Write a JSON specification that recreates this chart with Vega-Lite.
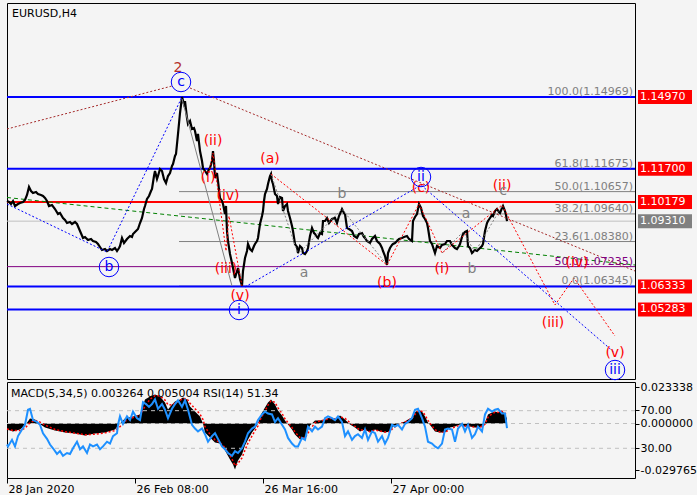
{
  "$schema": "https://vega.github.io/schema/vega-lite/v6.json",
  "background": "#F4F4F4",
  "padding": {"left": 2, "top": 2, "right": 0, "bottom": 0},
  "spacing": 3,
  "bounds": "flush",
  "config": {
    "view": {"stroke": "#000000", "strokeWidth": 1},
    "font": "DejaVu Sans",
    "axis": {"domain": false, "grid": false, "labelFont": "DejaVu Sans", "labelFontSize": 11, "labelColor": "#000000", "tickColor": "#000000", "labelFlush": false, "labelOverlap": false, "labelBound": false, "title": null},
    "title": {"font": "DejaVu Sans", "fontSize": 11, "fontWeight": "normal", "color": "#000000", "anchor": "start", "frame": "group", "baseline": "top"}
  },
  "datasets": {
    "price": [
      {"t":2,"p":1.10229},{"t":4,"p":1.10183},{"t":6,"p":1.10092},{"t":8,"p":1.10229},{"t":10,"p":1.10001},{"t":13,"p":1.10092},{"t":15,"p":1.10138},{"t":18,"p":1.10183},{"t":20,"p":1.10275},{"t":22,"p":1.10503},{"t":24,"p":1.10868},{"t":26,"p":1.10685},{"t":28,"p":1.10594},{"t":31,"p":1.1064},{"t":33,"p":1.10548},{"t":36,"p":1.10503},{"t":38,"p":1.10457},{"t":40,"p":1.10366},{"t":42,"p":1.10229},{"t":44,"p":1.10001},{"t":47,"p":1.10047},{"t":50,"p":1.09864},{"t":53,"p":1.09636},{"t":55,"p":1.09682},{"t":58,"p":1.09454},{"t":60,"p":1.09362},{"t":62,"p":1.09225},{"t":65,"p":1.09271},{"t":67,"p":1.0918},{"t":70,"p":1.09271},{"t":72,"p":1.0918},{"t":75,"p":1.0886},{"t":78,"p":1.08541},{"t":80,"p":1.08587},{"t":83,"p":1.0845},{"t":86,"p":1.08495},{"t":88,"p":1.08404},{"t":91,"p":1.08359},{"t":93,"p":1.08267},{"t":95,"p":1.08131},{"t":97,"p":1.07994},{"t":100,"p":1.08039},{"t":102,"p":1.07948},{"t":105,"p":1.08039},{"t":107,"p":1.07994},{"t":110,"p":1.08085},{"t":112,"p":1.07948},{"t":114,"p":1.08085},{"t":115,"p":1.08176},{"t":117,"p":1.08541},{"t":119,"p":1.08313},{"t":122,"p":1.08495},{"t":125,"p":1.08632},{"t":127,"p":1.08587},{"t":128,"p":1.08724},{"t":131,"p":1.0886},{"t":133,"p":1.08952},{"t":135,"p":1.09225},{"t":137,"p":1.09454},{"t":139,"p":1.09864},{"t":140,"p":1.10001},{"t":142,"p":1.1032},{"t":144,"p":1.10457},{"t":146,"p":1.10685},{"t":147,"p":1.10776},{"t":149,"p":1.11369},{"t":150,"p":1.11598},{"t":152,"p":1.11233},{"t":153,"p":1.11369},{"t":155,"p":1.11689},{"t":157,"p":1.11598},{"t":159,"p":1.11233},{"t":161,"p":1.1105},{"t":163,"p":1.11369},{"t":165,"p":1.11506},{"t":167,"p":1.11826},{"t":168,"p":1.11917},{"t":170,"p":1.12282},{"t":171,"p":1.12373},{"t":173,"p":1.13286},{"t":175,"p":1.14244},{"t":177,"p":1.14973},
      {"t":179,"p":1.14654},{"t":180,"p":1.14791},{"t":182,"p":1.14015},{"t":183,"p":1.13742},{"t":185,"p":1.13879},{"t":187,"p":1.13514},{"t":189,"p":1.13559},{"t":190,"p":1.13422},{"t":192,"p":1.12966},{"t":193,"p":1.13286},{"t":195,"p":1.1251},{"t":197,"p":1.12054},{"t":198,"p":1.11734},{"t":200,"p":1.11598},{"t":202,"p":1.11461},{"t":204,"p":1.11689},{"t":205,"p":1.11734},{"t":207,"p":1.12054},{"t":208,"p":1.1251},{"t":209,"p":1.12054},{"t":210,"p":1.11278},{"t":212,"p":1.11506},{"t":213,"p":1.11141},{"t":215,"p":1.10366},{"t":217,"p":1.10229},{"t":218,"p":1.10092},{"t":220,"p":1.09636},{"t":221,"p":1.10001},{"t":222,"p":1.0886},{"t":223,"p":1.08404},{"t":225,"p":1.07811},{"t":227,"p":1.07401},{"t":228,"p":1.07173},{"t":230,"p":1.06716},{"t":232,"p":1.07036},{"t":233,"p":1.07173},{"t":235,"p":1.06671},{"t":237,"p":1.06351},{"t":238,"p":1.07036},{"t":240,"p":1.07629},{"t":242,"p":1.07948},{"t":243,"p":1.08267},{"t":245,"p":1.08039},{"t":247,"p":1.07948},{"t":249,"p":1.08176},{"t":250,"p":1.08267},{"t":252,"p":1.08404},{"t":253,"p":1.08541},{"t":255,"p":1.0918},{"t":257,"p":1.09545},{"t":258,"p":1.09773},{"t":259,"p":1.10229},{"t":260,"p":1.10548},{"t":262,"p":1.10776},{"t":263,"p":1.11005},{"t":265,"p":1.11369},{"t":266,"p":1.11461},{"t":267,"p":1.11141},{"t":268,"p":1.11005},{"t":270,"p":1.10548},{"t":272,"p":1.10457},{"t":273,"p":1.10092},{"t":275,"p":1.10412},{"t":277,"p":1.10366},{"t":278,"p":1.09773},{"t":280,"p":1.10001},{"t":282,"p":1.10092},{"t":283,"p":1.09773},{"t":285,"p":1.09454},{"t":287,"p":1.09089},{"t":288,"p":1.0886},{"t":290,"p":1.08267},{"t":292,"p":1.08131},{"t":293,"p":1.07857},{"t":295,"p":1.08176},{"t":297,"p":1.08085},{"t":298,"p":1.07857},{"t":300,"p":1.07811},{"t":302,"p":1.07948},{"t":303,"p":1.08085},{"t":305,"p":1.08632},{"t":307,"p":1.08997},{"t":309,"p":1.08769},{"t":310,"p":1.08724},{"t":312,"p":1.08587},{"t":313,"p":1.08541},{"t":315,"p":1.08769},{"t":317,"p":1.08724},{"t":318,"p":1.09317},{"t":320,"p":1.09317},{"t":322,"p":1.09454},{"t":324,"p":1.09225},{"t":327,"p":1.09408},{"t":330,"p":1.09454},{"t":332,"p":1.09225},{"t":334,"p":1.09545},{"t":337,"p":1.09864},{"t":339,"p":1.09682},{"t":340,"p":1.09636},{"t":342,"p":1.08997},{"t":344,"p":1.08952},{"t":347,"p":1.0886},{"t":349,"p":1.08632},{"t":352,"p":1.08541},{"t":354,"p":1.08724},{"t":357,"p":1.08769},{"t":359,"p":1.08587},{"t":360,"p":1.08541},{"t":362,"p":1.08404},{"t":365,"p":1.08313},{"t":367,"p":1.08495},{"t":370,"p":1.08632},{"t":372,"p":1.08404},{"t":375,"p":1.08267},{"t":377,"p":1.08085},{"t":378,"p":1.07948},{"t":380,"p":1.0772},{"t":382,"p":1.07309},{"t":383,"p":1.07857},{"t":385,"p":1.08085},{"t":387,"p":1.08222},{"t":388,"p":1.08267},{"t":390,"p":1.08313},{"t":392,"p":1.08404},{"t":394,"p":1.08495},{"t":397,"p":1.08541},{"t":399,"p":1.08587},{"t":402,"p":1.08632},{"t":404,"p":1.08495},{"t":407,"p":1.08404},{"t":408,"p":1.09317},{"t":410,"p":1.09499},{"t":412,"p":1.09636},{"t":414,"p":1.10092},{"t":416,"p":1.0991},{"t":418,"p":1.09545},{"t":420,"p":1.09408},{"t":422,"p":1.09225},{"t":423,"p":1.08997},{"t":425,"p":1.08404},{"t":427,"p":1.08267},{"t":430,"p":1.07857},{"t":432,"p":1.08176},{"t":435,"p":1.08085},{"t":437,"p":1.08222},{"t":440,"p":1.08267},{"t":442,"p":1.08404},{"t":445,"p":1.08404},{"t":447,"p":1.08222},{"t":448,"p":1.08176},{"t":450,"p":1.08085},{"t":452,"p":1.08039},{"t":454,"p":1.08176},{"t":455,"p":1.08267},{"t":457,"p":1.08587},{"t":458,"p":1.08724},{"t":460,"p":1.08815},{"t":462,"p":1.0886},{"t":463,"p":1.08176},{"t":465,"p":1.08085},{"t":467,"p":1.07857},{"t":470,"p":1.07994},{"t":472,"p":1.07948},{"t":474,"p":1.08039},{"t":475,"p":1.08085},{"t":477,"p":1.08176},{"t":478,"p":1.08267},{"t":480,"p":1.0886},{"t":482,"p":1.09225},{"t":483,"p":1.09317},{"t":485,"p":1.09454},{"t":487,"p":1.0959},{"t":488,"p":1.09545},{"t":490,"p":1.09773},{"t":492,"p":1.09864},{"t":494,"p":1.09727},{"t":495,"p":1.09682},{"t":497,"p":1.0991},{"t":498,"p":1.10001},{"t":500,"p":1.09773},{"t":501,"p":1.0959},{"t":502,"p":1.0931}
    ],
    "levels": [
      {"p":1.1497,"k":"blue"},{"p":1.117,"k":"blue"},{"p":1.06333,"k":"blue"},{"p":1.05283,"k":"blue"},{"p":1.10179,"k":"red"},{"p":1.0931,"k":"cur"},{"p":1.07235,"k":"purple"}
    ],
    "fib": [
      {"p":1.14969,"l":"100.0(1.14969)","s":174},{"p":1.11675,"l":"61.8(1.11675)","s":174},{"p":1.10657,"l":"50.0(1.10657)","s":174},{"p":1.0964,"l":"38.2(1.09640)","s":174},{"p":1.0838,"l":"23.6(1.08380)","s":174},{"p":1.06345,"l":"0.0(1.06345)","s":174}
    ],
    "boxes": [
      {"p":1.1497,"k":"blue"},{"p":1.117,"k":"blue"},{"p":1.10179,"k":"red"},{"p":1.0931,"k":"cur"},{"p":1.06333,"k":"blue"},{"p":1.05283,"k":"blue"}
    ],
    "lines": [
      {"g":"gr","k":"green","t":2,"p":1.10389},{"g":"gr","k":"green","t":630,"p":1.07309},
      {"g":"gs","k":"graysolid","t":177,"p":1.14882},{"g":"gs","k":"graysolid","t":227,"p":1.06351},
      {"g":"g1","k":"graydot","t":266,"p":1.11461},{"g":"g1","k":"graydot","t":293,"p":1.07811},{"g":"g1","k":"graydot","t":337,"p":1.09864},{"g":"g1","k":"graydot","t":382,"p":1.07309},
      {"g":"g2","k":"graydot","t":437,"p":1.07857},{"g":"g2","k":"graydot","t":458,"p":1.08815},{"g":"g2","k":"graydot","t":470,"p":1.07902},{"g":"g2","k":"graydot","t":497,"p":1.10001},
      {"g":"b1","k":"brown","t":2,"p":1.13514},{"g":"b1","k":"brown","t":167,"p":1.15475},
      {"g":"b2","k":"brown","t":185,"p":1.15384},{"g":"b2","k":"brown","t":630,"p":1.07036},
      {"g":"u1","k":"blue","t":2,"p":1.10092},{"g":"u1","k":"blue","t":102,"p":1.07902},{"g":"u1","k":"blue","t":177,"p":1.14973},
      {"g":"u2","k":"blue","t":240,"p":1.06306},{"g":"u2","k":"blue","t":416,"p":1.10959},{"g":"u2","k":"blue","t":610,"p":1.03295},
      {"g":"r1","k":"red","t":204,"p":1.11506},{"g":"r1","k":"red","t":208,"p":1.12419},{"g":"r1","k":"red","t":221,"p":1.07948},{"g":"r1","k":"red","t":224,"p":1.09545},{"g":"r1","k":"red","t":237,"p":1.06351},
      {"g":"r2","k":"red","t":266,"p":1.11461},{"g":"r2","k":"red","t":382,"p":1.07309},{"g":"r2","k":"red","t":414,"p":1.10092},{"g":"r2","k":"red","t":437,"p":1.07857},{"g":"r2","k":"red","t":497,"p":1.10047},{"g":"r2","k":"red","t":550,"p":1.05485},{"g":"r2","k":"red","t":569,"p":1.06716},{"g":"r2","k":"red","t":610,"p":1.0407}
    ],
    "labels": [
      {"t":208,"p":1.12966,"s":"(ii)","k":"red"},{"t":265,"p":1.12145,"s":"(a)","k":"red"},{"t":203,"p":1.11278,"s":"(i)","k":"red"},{"t":223,"p":1.10457,"s":"(iv)","k":"red"},{"t":221,"p":1.07127,"s":"(iii)","k":"red"},{"t":235,"p":1.05895,"s":"(v)","k":"red"},{"t":382,"p":1.06488,"s":"(b)","k":"red"},{"t":416,"p":1.10822,"s":"(c)","k":"red"},{"t":437,"p":1.07127,"s":"(i)","k":"red"},{"t":497,"p":1.10913,"s":"(ii)","k":"red"},{"t":572,"p":1.074,"s":"(iv)","k":"red"},{"t":548,"p":1.04663,"s":"(iii)","k":"red"},{"t":610,"p":1.03295,"s":"(v)","k":"red"},
      {"t":337,"p":1.10548,"s":"b","k":"gray"},{"t":299,"p":1.06945,"s":"a","k":"gray"},{"t":461,"p":1.09636,"s":"a","k":"gray"},{"t":467,"p":1.07127,"s":"b","k":"gray"},{"t":498,"p":1.10685,"s":"c","k":"gray"},
      {"t":173,"p":1.16297,"s":"2","k":"brown"}
    ],
    "circles": [
      {"t":176,"p":1.15658,"s":"c"},{"t":104,"p":1.07218,"s":"b"},{"t":234,"p":1.05257,"s":"i"},{"t":416,"p":1.11324,"s":"ii"},{"t":610,"p":1.02519,"s":"iii"}
    ],
    "macd": [
      {"t":2,"m":-0.0038,"s":-0.0035},{"t":8,"m":-0.0051,"s":-0.0045},{"t":15,"m":-0.0038,"s":-0.0045},{"t":20,"m":-0.0013,"s":-0.003},{"t":25,"m":0.0032,"s":0.0005},{"t":30,"m":0.0026,"s":0.002},{"t":34,"m":0,"s":0.0012},{"t":40,"m":-0.0026,"s":-0.001},{"t":50,"m":-0.0045,"s":-0.0038},{"t":60,"m":-0.0058,"s":-0.0052},{"t":70,"m":-0.0064,"s":-0.0062},{"t":80,"m":-0.0077,"s":-0.0072},{"t":90,"m":-0.0064,"s":-0.0068},{"t":100,"m":-0.0058,"s":-0.006},{"t":110,"m":-0.0038,"s":-0.0045},{"t":115,"m":0,"s":-0.002},{"t":120,"m":0.0032,"s":0.0015},{"t":128,"m":0.0045,"s":0.0038},{"t":135,"m":0.0058,"s":0.0052},{"t":140,"m":0.0154,"s":0.011},{"t":145,"m":0.0173,"s":0.0155},{"t":150,"m":0.0186,"s":0.0178},{"t":155,"m":0.0173,"s":0.0176},{"t":160,"m":0.0134,"s":0.015},{"t":163,"m":0.009,"s":0.012},{"t":167,"m":0.0122,"s":0.0118},{"t":170,"m":0.0141,"s":0.013},{"t":175,"m":0.0154,"s":0.0148},{"t":178,"m":0.0166,"s":0.016},{"t":182,"m":0.0154,"s":0.0158},{"t":185,"m":0.0109,"s":0.013},{"t":190,"m":0.0077,"s":0.0095},{"t":195,"m":0.0045,"s":0.006},{"t":198,"m":0,"s":0.0025},{"t":200,"m":-0.0058,"s":-0.002},{"t":205,"m":-0.009,"s":-0.007},{"t":210,"m":-0.0122,"s":-0.0105},{"t":215,"m":-0.0128,"s":-0.0122},{"t":220,"m":-0.0173,"s":-0.0155},{"t":225,"m":-0.023,"s":-0.0205},{"t":228,"m":-0.0262,"s":-0.024},{"t":230,"m":-0.0294,"s":-0.027},{"t":233,"m":-0.0237,"s":-0.0255},{"t":237,"m":-0.0198,"s":-0.022},{"t":240,"m":-0.0141,"s":-0.017},{"t":243,"m":-0.0102,"s":-0.0125},{"t":247,"m":-0.0058,"s":-0.008},{"t":250,"m":-0.0032,"s":-0.0045},{"t":253,"m":0,"s":-0.0015},{"t":256,"m":0.0058,"s":0.0035},{"t":260,"m":0.0102,"s":0.008},{"t":263,"m":0.0134,"s":0.0118},{"t":266,"m":0.0154,"s":0.0145},{"t":270,"m":0.0122,"s":0.0135},{"t":273,"m":0.0083,"s":0.01},{"t":277,"m":0.0051,"s":0.0065},{"t":280,"m":0.0019,"s":0.003},{"t":283,"m":-0.0006,"s":0.0005},{"t":287,"m":-0.0038,"s":-0.0025},{"t":290,"m":-0.007,"s":-0.0055},{"t":295,"m":-0.0102,"s":-0.009},{"t":300,"m":-0.009,"s":-0.0092},{"t":305,"m":-0.0013,"s":-0.004},{"t":310,"m":0.0019,"s":0.0005},{"t":315,"m":0.0019,"s":0.0017},{"t":320,"m":0.0026,"s":0.0023},{"t":325,"m":0.0038,"s":0.0033},{"t":330,"m":0.0026,"s":0.003},{"t":335,"m":0.0051,"s":0.0043},{"t":340,"m":0.0026,"s":0.0033},{"t":345,"m":-0.0006,"s":0.0005},{"t":350,"m":-0.0026,"s":-0.0018},{"t":355,"m":-0.0051,"s":-0.0042},{"t":360,"m":-0.0038,"s":-0.004},{"t":365,"m":-0.0058,"s":-0.0052},{"t":370,"m":-0.0038,"s":-0.0042},{"t":375,"m":-0.0051,"s":-0.0048},{"t":380,"m":-0.0058,"s":-0.0055},{"t":385,"m":-0.0051,"s":-0.0052},{"t":388,"m":-0.0019,"s":-0.003},{"t":392,"m":-0.0006,"s":-0.0012},{"t":397,"m":0.0006,"s":0.0002},{"t":400,"m":0.0013,"s":0.001},{"t":403,"m":0.0026,"s":0.002},{"t":407,"m":0.0038,"s":0.0033},{"t":410,"m":0.007,"s":0.0058},{"t":413,"m":0.009,"s":0.008},{"t":417,"m":0.0077,"s":0.0078},{"t":420,"m":0.0045,"s":0.0055},{"t":423,"m":0.0006,"s":0.002},{"t":427,"m":-0.0026,"s":-0.0015},{"t":430,"m":-0.0051,"s":-0.004},{"t":435,"m":-0.0058,"s":-0.0055},{"t":440,"m":-0.0058,"s":-0.0058},{"t":445,"m":-0.0026,"s":-0.0035},{"t":450,"m":-0.0019,"s":-0.0022},{"t":455,"m":-0.0006,"s":-0.001},{"t":460,"m":-0.0019,"s":-0.0016},{"t":465,"m":-0.0019,"s":-0.0018},{"t":470,"m":-0.0026,"s":-0.0024},{"t":475,"m":-0.0026,"s":-0.0025},{"t":480,"m":0.0006,"s":-0.0005},{"t":483,"m":0.0058,"s":0.004},{"t":487,"m":0.007,"s":0.0062},{"t":490,"m":0.0077,"s":0.0072},{"t":493,"m":0.007,"s":0.0071},{"t":497,"m":0.0083,"s":0.0078},{"t":500,"m":0.0058,"s":0.0065},{"t":502,"m":0.003264,"s":0.005004}
    ],
    "rsi": [
      {"t":2,"r":34},{"t":3,"r":32},{"t":7,"r":39},{"t":10,"r":32},{"t":13,"r":43},{"t":17,"r":50},{"t":20,"r":55},{"t":23,"r":71},{"t":25,"r":72},{"t":28,"r":60},{"t":32,"r":58},{"t":35,"r":55},{"t":38,"r":46},{"t":42,"r":40},{"t":45,"r":34},{"t":48,"r":30},{"t":52,"r":24},{"t":55,"r":27},{"t":58,"r":22},{"t":62,"r":25},{"t":65,"r":24},{"t":68,"r":30},{"t":72,"r":37},{"t":75,"r":29},{"t":78,"r":32},{"t":82,"r":25},{"t":85,"r":34},{"t":88,"r":32},{"t":92,"r":34},{"t":95,"r":29},{"t":98,"r":32},{"t":102,"r":37},{"t":105,"r":35},{"t":108,"r":43},{"t":112,"r":46},{"t":113,"r":55},{"t":115,"r":64},{"t":118,"r":56},{"t":122,"r":64},{"t":125,"r":60},{"t":128,"r":69},{"t":132,"r":62},{"t":135,"r":60},{"t":138,"r":79},{"t":141,"r":77},{"t":144,"r":74},{"t":147,"r":77},{"t":150,"r":82},{"t":153,"r":72},{"t":157,"r":77},{"t":160,"r":71},{"t":163,"r":62},{"t":167,"r":72},{"t":170,"r":77},{"t":173,"r":81},{"t":177,"r":74},{"t":180,"r":81},{"t":183,"r":71},{"t":187,"r":55},{"t":190,"r":51},{"t":193,"r":48},{"t":197,"r":51},{"t":200,"r":45},{"t":203,"r":37},{"t":207,"r":43},{"t":210,"r":46},{"t":213,"r":40},{"t":217,"r":32},{"t":220,"r":29},{"t":223,"r":25},{"t":227,"r":22},{"t":230,"r":27},{"t":233,"r":25},{"t":237,"r":30},{"t":240,"r":37},{"t":243,"r":46},{"t":247,"r":51},{"t":250,"r":53},{"t":253,"r":60},{"t":257,"r":66},{"t":260,"r":69},{"t":263,"r":67},{"t":267,"r":66},{"t":270,"r":58},{"t":273,"r":62},{"t":277,"r":55},{"t":280,"r":50},{"t":283,"r":41},{"t":287,"r":35},{"t":290,"r":32},{"t":293,"r":32},{"t":297,"r":41},{"t":300,"r":39},{"t":303,"r":53},{"t":307,"r":48},{"t":310,"r":53},{"t":313,"r":50},{"t":317,"r":53},{"t":320,"r":62},{"t":323,"r":64},{"t":327,"r":62},{"t":330,"r":60},{"t":333,"r":64},{"t":337,"r":58},{"t":340,"r":43},{"t":343,"r":48},{"t":347,"r":39},{"t":350,"r":43},{"t":353,"r":45},{"t":357,"r":41},{"t":360,"r":50},{"t":363,"r":39},{"t":367,"r":48},{"t":370,"r":46},{"t":373,"r":37},{"t":377,"r":43},{"t":380,"r":35},{"t":383,"r":41},{"t":387,"r":55},{"t":390,"r":53},{"t":393,"r":55},{"t":397,"r":50},{"t":400,"r":56},{"t":403,"r":58},{"t":407,"r":62},{"t":410,"r":71},{"t":413,"r":72},{"t":417,"r":62},{"t":420,"r":53},{"t":423,"r":37},{"t":427,"r":35},{"t":430,"r":32},{"t":433,"r":30},{"t":437,"r":35},{"t":440,"r":50},{"t":443,"r":51},{"t":447,"r":50},{"t":450,"r":37},{"t":453,"r":51},{"t":457,"r":56},{"t":460,"r":48},{"t":463,"r":55},{"t":467,"r":41},{"t":470,"r":45},{"t":473,"r":53},{"t":477,"r":48},{"t":480,"r":66},{"t":483,"r":72},{"t":487,"r":69},{"t":490,"r":71},{"t":493,"r":72},{"t":497,"r":67},{"t":500,"r":67},{"t":502,"r":51.34}
    ],
    "rsiLevels": [{"v":70},{"v":30}]
  },
  "vconcat": [
    {
      "width": 628,
      "height": 376,
      "title": {"text": "EURUSD,H4", "offset": -16, "dx": 5},
      "encoding": {
        "x": {"field": "t", "type": "quantitative", "scale": {"domain": [2, 630], "nice": false, "zero": false}, "axis": null},
        "y": {"field": "p", "type": "quantitative", "scale": {"domain": [1.02109, 1.19262], "nice": false, "zero": false}, "axis": null}
      },
      "layer": [
        {
          "data": {"name": "levels"},
          "transform": [{"filter": "datum.k == 'purple'"}],
          "mark": {"type": "rule", "color": "#800080", "strokeWidth": 1},
          "encoding": {
            "x": null,
            "y": {"field": "p", "type": "quantitative", "scale": {"domain": [1.02109, 1.19262], "nice": false, "zero": false},
              "axis": {"orient": "right", "values": [1.1819, 1.1673, 1.1527, 1.1381, 1.1235, 1.1089, 1.0943, 1.0797, 1.0651, 1.0505, 1.0359], "format": ".5f", "tickSize": 4, "labelPadding": 1}}
          }
        },
        {
          "data": {"name": "levels"},
          "transform": [{"filter": "datum.k == 'cur'"}],
          "mark": {"type": "rule", "color": "#C0C0C0", "strokeWidth": 1},
          "encoding": {"x": null}
        },
        {
          "data": {"name": "fib"},
          "mark": {"type": "rule", "color": "#808080", "strokeWidth": 1},
          "encoding": {"x": {"field": "s", "type": "quantitative"}, "x2": {"value": "width"}}
        },
        {
          "data": {"name": "levels"},
          "transform": [{"filter": "datum.k == 'blue'"}],
          "mark": {"type": "rule", "color": "#0000FF", "strokeWidth": 2},
          "encoding": {"x": null}
        },
        {
          "data": {"name": "levels"},
          "transform": [{"filter": "datum.k == 'red'"}],
          "mark": {"type": "rule", "color": "#FF0000", "strokeWidth": 2},
          "encoding": {"x": null}
        },
        {
          "data": {"name": "lines"},
          "transform": [{"filter": "datum.k == 'green'"}],
          "mark": {"type": "line", "color": "#008000", "strokeWidth": 1, "strokeDash": [4, 3]},
          "encoding": {"detail": {"field": "g"}}
        },
        {
          "data": {"name": "price"},
          "mark": {"type": "line", "color": "#000000", "strokeWidth": 2.2},
          "encoding": {}
        },
        {
          "data": {"name": "lines"},
          "transform": [{"filter": "datum.k == 'graysolid'"}],
          "mark": {"type": "line", "color": "#808080", "strokeWidth": 1},
          "encoding": {"detail": {"field": "g"}}
        },
        {
          "data": {"name": "lines"},
          "transform": [{"filter": "datum.k == 'graydot'"}],
          "mark": {"type": "line", "color": "#808080", "strokeWidth": 1, "strokeDash": [2, 2]},
          "encoding": {"detail": {"field": "g"}}
        },
        {
          "data": {"name": "lines"},
          "transform": [{"filter": "datum.k == 'brown'"}],
          "mark": {"type": "line", "color": "#A52A2A", "strokeWidth": 1, "strokeDash": [2, 2]},
          "encoding": {"detail": {"field": "g"}}
        },
        {
          "data": {"name": "lines"},
          "transform": [{"filter": "datum.k == 'blue'"}],
          "mark": {"type": "line", "color": "#0000FF", "strokeWidth": 1, "strokeDash": [2, 2]},
          "encoding": {"detail": {"field": "g"}}
        },
        {
          "data": {"name": "lines"},
          "transform": [{"filter": "datum.k == 'red'"}],
          "mark": {"type": "line", "color": "#FF0000", "strokeWidth": 1, "strokeDash": [2, 2]},
          "encoding": {"detail": {"field": "g"}}
        },
        {
          "data": {"name": "fib"},
          "mark": {"type": "text", "align": "right", "baseline": "alphabetic", "dx": -2, "dy": -2, "fontSize": 11, "color": "#808080"},
          "encoding": {"x": {"value": "width"}, "text": {"field": "l"}}
        },
        {
          "data": {"values": [{"p": 1.07235, "l": "50.0(1.07235)"}]},
          "mark": {"type": "text", "align": "right", "baseline": "alphabetic", "dx": -2, "dy": -2, "fontSize": 11, "color": "#800080"},
          "encoding": {"x": {"value": "width"}, "text": {"field": "l"}}
        },
        {
          "data": {"name": "labels"},
          "mark": {"type": "text", "fontSize": 14, "baseline": "middle", "align": "center"},
          "encoding": {
            "text": {"field": "s"},
            "color": {"field": "k", "type": "nominal", "scale": {"domain": ["red", "gray", "brown"], "range": ["#FF0000", "#808080", "#B5302A"]}, "legend": null},
            "size": {"field": "k", "type": "nominal", "scale": {"domain": ["red", "gray", "brown"], "range": [14, 14, 17]}, "legend": null}
          }
        },
        {
          "data": {"name": "circles"},
          "mark": {"type": "point", "shape": "circle", "filled": false, "size": 380, "stroke": "#0000FF", "strokeWidth": 1, "opacity": 1},
          "encoding": {}
        },
        {
          "data": {"name": "circles"},
          "mark": {"type": "text", "fontSize": 14, "baseline": "middle", "align": "center", "color": "#0000FF"},
          "encoding": {"text": {"field": "s"}}
        },
        {
          "data": {"name": "boxes"},
          "mark": {"type": "tick", "orient": "horizontal", "size": 54, "thickness": 14, "xOffset": 30, "opacity": 1},
          "encoding": {
            "x": {"value": "width"},
            "color": {"field": "k", "type": "nominal", "scale": {"domain": ["blue", "red", "cur"], "range": ["#0000FF", "#FF0000", "#C0C0C0"]}, "legend": null}
          }
        },
        {
          "data": {"name": "boxes"},
          "mark": {"type": "text", "align": "left", "baseline": "middle", "dx": 5, "fontSize": 11, "color": "#FFFFFF"},
          "encoding": {"x": {"value": "width"}, "text": {"field": "p", "type": "quantitative", "format": ".5f"}}
        }
      ]
    },
    {
      "width": 628,
      "height": 96,
      "title": {"text": "MACD(5,34,5) 0.003264 0.005004 RSI(14) 51.34", "offset": -17.5, "dx": 4},
      "resolve": {"scale": {"y": "independent"}, "axis": {"y": "independent"}},
      "layer": [
        {
          "data": {"name": "macd"},
          "mark": {"type": "area", "color": "#000000", "opacity": 1},
          "encoding": {
            "x": {"field": "t", "type": "quantitative", "scale": {"domain": [2, 630], "nice": false, "zero": false},
              "axis": {"orient": "bottom", "values": [2, 130, 258, 386], "labelExpr": "datum.value < 50 ? '28 Jan 2020' : datum.value < 200 ? '26 Feb 08:00' : datum.value < 300 ? '26 Mar 16:00' : '27 Apr 00:00'", "labelAlign": "left", "labelBaseline": "top", "labelPadding": 0, "tickSize": 5, "labelOffset": 1}},
            "y": {"field": "m", "type": "quantitative", "scale": {"domain": [-0.03488, 0.02656], "nice": false, "zero": false},
              "axis": {"orient": "right", "values": [0.023338, 0.00864, 0, -0.01568, -0.029765], "labelExpr": "datum.value > 0.02 ? '0.023338' : datum.value > 0.005 ? '70.00' : datum.value > -0.005 ? '0.000000' : datum.value > -0.02 ? '30.00' : '-0.029765'", "tickSize": 4, "labelPadding": 1}},
            "y2": {"datum": 0}
          }
        },
        {
          "data": {"name": "macd"},
          "mark": {"type": "line", "color": "#FF0000", "strokeWidth": 1.5, "strokeDash": [2, 2]},
          "encoding": {
            "x": {"field": "t", "type": "quantitative"},
            "y": {"field": "s", "type": "quantitative", "scale": {"domain": [-0.03488, 0.02656], "nice": false, "zero": false}, "axis": null}
          }
        },
        {
          "data": {"values": [{"z": 0}]},
          "mark": {"type": "rule", "color": "#C0C0C0", "strokeWidth": 1, "strokeDash": [4, 4]},
          "encoding": {
            "y": {"field": "z", "type": "quantitative", "scale": {"domain": [-0.03488, 0.02656], "nice": false, "zero": false}, "axis": null}
          }
        },
        {
          "data": {"name": "rsiLevels"},
          "mark": {"type": "rule", "color": "#C0C0C0", "strokeWidth": 1, "strokeDash": [4, 4]},
          "encoding": {
            "y": {"field": "v", "type": "quantitative", "scale": {"domain": [-1.6, 100.5], "nice": false, "zero": false}, "axis": null}
          }
        },
        {
          "data": {"name": "rsi"},
          "mark": {"type": "line", "color": "#1E90FF", "strokeWidth": 2},
          "encoding": {
            "x": {"field": "t", "type": "quantitative"},
            "y": {"field": "r", "type": "quantitative", "scale": {"domain": [-1.6, 100.5], "nice": false, "zero": false}, "axis": null}
          }
        }
      ]
    }
  ]
}
